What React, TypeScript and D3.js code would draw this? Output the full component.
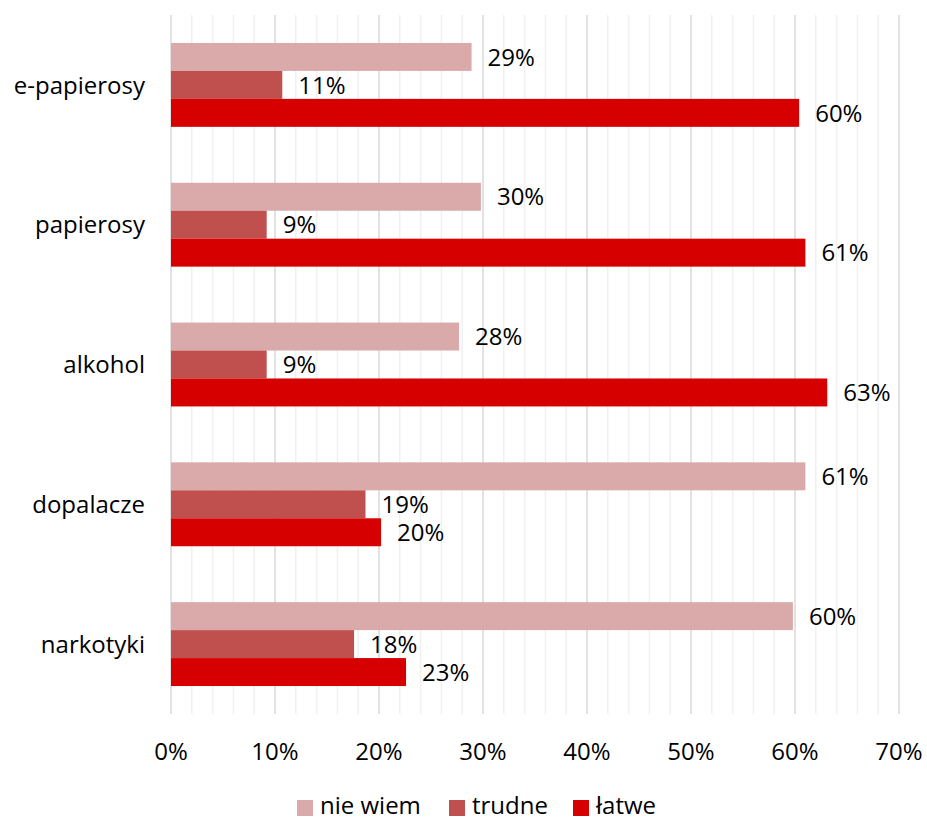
import React from "react";
import * as d3 from "d3";

const categories = ["e-papierosy", "papierosy", "alkohol", "dopalacze", "narkotyki"];
const seriesNames = ["nie wiem", "trudne", "łatwe"];
const nieWiem = [28.9, 29.8, 27.7, 61.0, 59.8];
const trudne = [10.7, 9.2, 9.2, 18.7, 17.6];
const latwe = [60.4, 61.0, 63.1, 20.2, 22.6];
const seriesColors = ["#DAAAAA", "#C0504D", "#D60000"];
const xTicks = [0, 10, 20, 30, 40, 50, 60, 70];

const W = 927;
const H = 818;
const left = 171;
const right = 899;
const top = 15;
const bottom = 714;
const FONT = "'Open Sans', sans-serif";
const FS = 24;

export default function App() {
  const series = [nieWiem, trudne, latwe];
  const x = d3.scaleLinear().domain([0, 70]).range([left, right]);
  const y = d3
    .scaleBand<string>()
    .domain(categories)
    .range([top, bottom])
    .paddingInner(0.4)
    .paddingOuter(0.2);
  const inner = d3
    .scaleBand<string>()
    .domain(seriesNames)
    .range([0, y.bandwidth()]);
  const minor = d3.range(0, 70.001, 2).filter((v) => Math.round(v) % 10 !== 0);

  const legendX = [297, 449, 573];

  return (
    <svg
      width={W}
      height={H}
      style={{ position: "absolute", left: 0, top: 0, background: "#fff" }}
      fontFamily={FONT}
    >
      <rect x={0} y={0} width={W} height={H} fill="#fff" />
      {minor.map((v) => (
        <line key={"m" + v} x1={x(v)} x2={x(v)} y1={top} y2={bottom} stroke="#F0F0F0" strokeWidth={1.5} />
      ))}
      {xTicks.map((v) => (
        <line key={"g" + v} x1={x(v)} x2={x(v)} y1={top} y2={bottom} stroke="#D9D9D9" strokeWidth={1.5} />
      ))}
      {categories.map((c, ci) => (
        <g key={c}>
          {series.map((s, si) => {
            const yy = (y(c) as number) + (inner(seriesNames[si]) as number);
            const h = inner.bandwidth();
            return (
              <g key={si}>
                <rect x={x(0)} y={yy} width={x(s[ci]) - x(0)} height={h} fill={seriesColors[si]} />
                <text x={x(s[ci]) + 16} y={yy + h / 2} dy="0.36em" fontSize={FS} fill="#000">
                  {Math.round(s[ci]) + "%"}
                </text>
              </g>
            );
          })}
          <text
            x={145}
            y={(y(c) as number) + y.bandwidth() / 2}
            dy="0.36em"
            textAnchor="end"
            fontSize={FS}
            fill="#000"
          >
            {c}
          </text>
        </g>
      ))}
      {xTicks.map((v) => (
        <text key={"t" + v} x={x(v)} y={751} dy="0.36em" textAnchor="middle" fontSize={FS} fill="#000">
          {v + "%"}
        </text>
      ))}
      {seriesNames.map((n, i) => (
        <g key={n}>
          <rect x={legendX[i]} y={800} width={16} height={16} fill={seriesColors[i]} />
          <text x={legendX[i] + 23} y={805} dy="0.36em" fontSize={FS} fill="#000">
            {n}
          </text>
        </g>
      ))}
    </svg>
  );
}
